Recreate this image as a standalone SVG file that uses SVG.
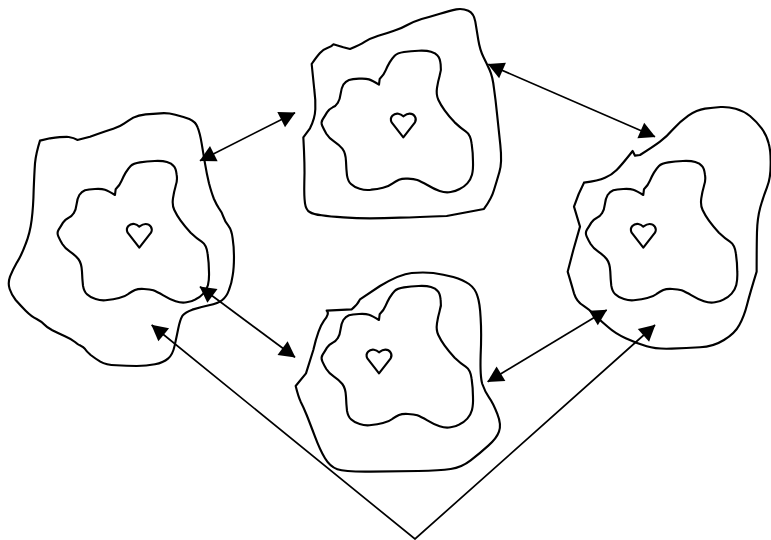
<svg xmlns="http://www.w3.org/2000/svg" xmlns:xlink="http://www.w3.org/1999/xlink" width="771" height="540" viewBox="0 0 771 540">
<style>
.o{fill:none;stroke:#000;stroke-width:6.4;stroke-linejoin:round;stroke-linecap:round}
.c{fill:none;stroke:#000;stroke-width:1.7}
</style>
<defs>
<marker id="ah" markerUnits="userSpaceOnUse" markerWidth="18" markerHeight="19" refX="16.5" refY="9.5" orient="auto-start-reverse"><path d="M1,1 L17,9.5 L1,18 Z" fill="#000"/></marker>
<path id="core" class="o" d="M345,315 L347,298 Q360,285 365,272 Q370,260 377,248 Q385,235 392,228 Q400,220 420,217 Q440,214 464,213 Q488,212 501,216 Q515,220 521,228 Q528,235 530,254 Q533,272 527,288 Q522,305 519,325 Q516,345 523,360 Q530,375 542,392 Q555,410 572,428 Q590,445 605,455 Q620,465 623,492 Q627,520 627,545 Q628,570 624,585 Q620,600 610,611 Q600,622 587,628 Q575,635 560,637 Q545,640 527,634 Q510,628 490,616 Q470,605 460,601 Q450,598 432,597 Q415,596 405,600 Q395,605 385,612 Q375,620 357,624 Q340,628 322,630 Q305,633 287,627 Q270,622 261,613 Q252,605 249,587 Q247,570 246,545 Q245,520 235,507 Q225,495 210,485 Q195,475 187,462 Q180,450 175,439 Q170,428 176,419 Q182,410 189,398 Q197,387 206,383 Q215,380 221,370 Q228,360 230,342 Q232,325 238,315 Q245,305 255,301 Q265,298 285,297 Q305,296 315,299 Q325,302 345,315"/>
<path id="heart" class="o" d="M418,473 L383,428 C375,412 390,400 403,402 C410,403 415,407 418,410 C422,407 428,402 437,402 C450,402 460,415 453,428 Z"/>
</defs>
<rect width="771" height="540" fill="#fff"/>
<g id="node-left" transform="translate(0,90) scale(.3333)">
<path class="o" d="M120,152 L150,145 Q190,140 206,141 Q222,143 232,150 L270,140 Q320,122 340,116 Q360,110 372,101 Q385,92 400,83 Q415,75 437,73 Q460,72 481,70 Q503,68 526,74 Q550,80 568,87 Q587,95 593,112 Q600,130 605,160 Q610,190 615,220 Q620,250 627,280 Q635,310 642,327 Q650,345 657,355 Q665,365 670,380 Q675,395 685,407 Q695,420 698,445 Q702,470 702,502 Q702,535 698,557 Q695,580 687,600 Q680,620 667,630 Q655,640 627,646 Q600,652 577,659 Q555,667 547,678 Q540,690 535,715 Q530,740 524,767 Q518,795 504,806 Q490,818 465,823 Q440,828 410,828 Q380,828 349,826 Q318,825 301,815 Q285,805 272,795 Q260,785 255,777 Q250,770 242,767 Q235,765 225,756 Q215,748 195,739 Q175,730 157,721 Q140,712 132,703 Q125,695 110,687 Q95,680 77,662 Q60,645 47,630 Q35,615 29,597 Q23,580 30,560 Q38,540 51,517 Q65,495 77,462 Q90,430 95,390 Q100,350 101,300 Q103,250 105,220 Q108,190 120,152"/>
<use href="#core"/>
<use href="#heart"/>
</g>
<g id="node-top">
<path class="o" transform="translate(290,0) scale(.3333)" d="M65,192 Q80,170 90,159 Q100,148 112,144 Q125,140 130,133 L160,142 L180,147 Q210,135 225,125 Q240,115 265,107 Q290,100 312,92 Q335,85 352,75 Q370,65 395,57 Q420,50 450,41 Q480,32 499,28 Q518,25 535,32 Q552,40 556,65 Q560,90 565,120 Q570,150 580,170 Q590,190 599,210 Q608,230 612,265 Q617,300 621,340 Q625,380 631,435 Q637,490 628,517 Q620,545 612,570 Q605,595 582,627 L530,637 L470,648 Q380,652 330,653 Q280,655 240,655 Q200,655 160,652 Q120,650 95,646 Q70,643 59,636 Q48,630 45,610 Q42,590 43,545 Q45,500 40,412 L60,385 Q75,355 76,327 Q77,300 73,270 Q70,240 65,192"/>
<use href="#core" transform="translate(264,-20.3) scale(.3333)"/>
<use href="#heart" transform="translate(264,-20.3) scale(.3333)"/>
</g>
<g id="node-right">
<path class="o" transform="translate(540,90) scale(.3333)" d="M132,278 Q175,272 195,263 Q215,255 230,240 Q245,225 278,183 L285,197 L300,195 Q340,170 360,155 Q380,140 400,117 Q420,95 445,77 Q470,60 495,56 Q520,53 542,51 Q565,50 587,56 Q610,62 630,78 Q650,95 665,115 Q680,135 686,160 Q693,185 692,225 Q692,265 681,292 Q670,320 661,352 Q652,385 651,427 Q650,470 650,545 Q630,610 621,645 Q612,680 598,705 Q585,730 552,750 Q520,770 480,772 Q440,775 395,776 Q350,778 320,769 Q290,760 257,745 Q225,730 205,712 Q185,695 167,677 Q150,660 130,647 Q110,635 102,610 Q95,585 83,545 L100,480 L120,410 L102,350 Q115,310 132,278"/>
<use href="#core" transform="translate(528.3,90) scale(.3333)"/>
<use href="#heart" transform="translate(504,90) scale(.3333)"/>
</g>
<g id="node-bottom">
<path class="o" transform="translate(280,260) scale(.3333)" d="M140,152 L215,148 Q232,135 240,118 L300,78 Q360,42 395,39 Q430,36 460,39 Q490,43 520,51 Q550,60 567,72 Q585,85 592,107 Q600,130 602,175 Q605,220 602,285 Q600,350 607,372 Q615,395 627,412 Q640,430 652,462 Q665,495 657,515 Q650,535 625,557 Q600,580 572,601 Q545,622 512,627 Q480,632 415,633 Q350,634 272,635 Q195,636 172,628 Q150,620 135,595 Q120,570 105,530 Q90,490 80,465 Q70,440 62,425 Q55,410 47,378 L78,340 L100,270 Q115,205 132,182 Q150,160 140,152"/>
<use href="#core" transform="translate(264,215) scale(.3333)"/>
<use href="#heart" transform="translate(239.7,215.7) scale(.3333)"/>
</g>
<g id="connectors">
<line class="c" x1="200" y1="160.7" x2="295" y2="112.7" marker-start="url(#ah)" marker-end="url(#ah)"/>
<line class="c" x1="488.3" y1="64.3" x2="655" y2="136.7" marker-start="url(#ah)" marker-end="url(#ah)"/>
<line class="c" x1="200" y1="286.7" x2="295" y2="357.3" marker-start="url(#ah)" marker-end="url(#ah)"/>
<line class="c" x1="487.7" y1="381.7" x2="606.7" y2="310" marker-start="url(#ah)" marker-end="url(#ah)"/>
<polyline class="c" points="151.7,325 415,539 655,325" marker-start="url(#ah)" marker-end="url(#ah)"/>
</g>
</svg>
